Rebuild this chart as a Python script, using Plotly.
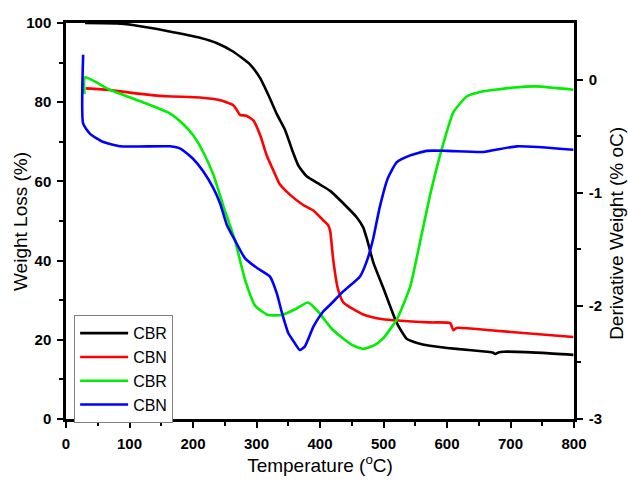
import plotly.graph_objects as go

# Weight-loss curves (left axis, %)
cbr_w_t = [30, 80, 105, 159, 211, 238, 263, 290, 306, 321, 332, 345, 356, 366, 379, 400, 416,
           442, 458, 468, 474, 484, 499, 521, 537, 553, 573, 615, 663, 672, 676, 681, 689,
           750, 799]
cbr_w = [100, 99.9, 99.5, 98, 96.3, 94.9, 92.8, 89.5, 86, 81, 77, 73, 68, 64, 61.3, 59.2, 57.6,
         53.6, 50.9, 48.4, 45.4, 39.5, 33.4, 24.2, 20.2, 19.2, 18.5, 17.7, 17, 16.8, 16.4, 16.8,
         17, 16.7, 16.2]

cbn_w_t = [31, 69, 106, 159, 211, 243, 263, 268, 274, 284, 295, 306, 316, 327, 337, 353, 373,
           390, 405, 413, 416, 421, 428, 437, 468, 499, 573, 605, 610, 615, 668, 799]
cbn_w = [83.5, 83.1, 82.3, 81.5, 81.2, 80.5, 79.3, 78.3, 76.8, 76.6, 75.4, 71.6, 66.6, 62.6,
         59.2, 56.6, 54.1, 52.6, 50.2, 48.9, 47.5, 40, 33, 29.4, 26.4, 25.2, 24.4, 24.2, 22.4,
         23, 22.4, 20.7]

# Derivative curves (right axis, % per oC)
cbr_d_t = [29, 30, 69, 121, 164, 184, 200, 216, 232, 248, 266, 282, 298, 318, 340, 361, 381,
           397, 418, 437, 452, 468, 485, 499, 521, 542, 557, 573, 589, 610, 631, 652, 705, 741,
           799]
cbr_d = [-0.13, 0.02, -0.09, -0.2, -0.3, -0.39, -0.49, -0.64, -0.84, -1.12, -1.42, -1.77, -2.0,
         -2.08, -2.08, -2.03, -1.97, -2.05, -2.2, -2.29, -2.35, -2.38, -2.35, -2.29, -2.12,
         -1.83, -1.45, -1.03, -0.67, -0.29, -0.15, -0.11, -0.07, -0.06, -0.09]

cbn_d_t = [27, 27, 38, 58, 85, 164, 180, 200, 216, 232, 243, 253, 266, 282, 302, 321, 332, 340,
           350, 358, 368, 376, 390, 405, 416, 437, 463, 474, 484, 494, 507, 521, 542, 568, 600,
           657, 710, 799]
cbn_d = [0.22, -0.39, -0.48, -0.55, -0.59, -0.59, -0.61, -0.7, -0.81, -0.96, -1.1, -1.28, -1.42,
         -1.58, -1.67, -1.74, -1.89, -2.06, -2.24, -2.31, -2.39, -2.36, -2.18, -2.05, -1.99,
         -1.87, -1.74, -1.6, -1.4, -1.13, -0.87, -0.73, -0.67, -0.63, -0.63, -0.64, -0.59,
         -0.62]

# Axis tick values
x_ticks = [0, 100, 200, 300, 400, 500, 600, 700, 800]
x_minor = [50, 150, 250, 350, 450, 550, 650, 750]
w_ticks = [0, 20, 40, 60, 80, 100]
w_minor = [10, 30, 50, 70, 90]
d_ticks = [-3, -2, -1, 0]
d_minor = [-2.5, -1.5, -0.5]

FONT = "Arial, Liberation Sans, sans-serif"
LW = 2.6


def curve(t, v, name, color, axis="y"):
    return go.Scatter(x=t, y=v, name=name, mode="lines", yaxis=axis,
                      line=dict(color=color, width=LW, shape="spline", smoothing=0.5))


def bold(vals):
    return ["<b>%g</b>" % v for v in vals]


fig = go.Figure()
fig.add_trace(curve(cbr_w_t, cbr_w, "CBR", "black"))
fig.add_trace(curve(cbn_w_t, cbn_w, "CBN", "#ff0000"))
fig.add_trace(curve(cbr_d_t, cbr_d, "CBR", "#00ee00", "y2"))
fig.add_trace(curve(cbn_d_t, cbn_d, "CBN", "#0000ff", "y2"))

tickfont = dict(family=FONT, size=15, color="black")
titlefont = dict(family=FONT, size=19, color="black")
major = dict(ticks="outside", ticklen=6, tickwidth=2, tickcolor="black",
             ticklabelstandoff=3, tickmode="array")
minor_style = dict(ticks="outside", ticklen=4, tickwidth=2, tickcolor="black")
axis_line = dict(showline=True, linecolor="black", linewidth=2.5, showgrid=False,
                 zeroline=False, tickfont=tickfont)

fig.update_layout(
    width=628, height=482,
    margin=dict(l=66, r=54, t=23, b=58),
    paper_bgcolor="white", plot_bgcolor="white",
    font=dict(family=FONT, color="black"),
    showlegend=True,
    legend=dict(x=0.016, y=0.262, xanchor="left", yanchor="top",
                bgcolor="white", bordercolor="#808080", borderwidth=1,
                font=dict(family=FONT, size=16, color="black"),
                tracegroupgap=0, itemwidth=48),
    xaxis=dict(range=[0, 800], tickvals=x_ticks, ticktext=bold(x_ticks), **major,
               minor=dict(tickvals=x_minor, **minor_style),
               mirror=True, **axis_line,
               title=dict(text="Temperature (<sup>o</sup>C)", font=titlefont, standoff=5)),
    yaxis=dict(range=[0, 100], tickvals=w_ticks, ticktext=bold(w_ticks), **major,
               minor=dict(tickvals=w_minor, **minor_style), **axis_line),
    yaxis2=dict(range=[-3, 0.5], tickvals=d_ticks, ticktext=bold(d_ticks),
                overlaying="y", side="right", anchor="x", **major,
                minor=dict(tickvals=d_minor, **minor_style), **axis_line),
    annotations=[
        dict(text="Weight Loss (%)", font=titlefont, textangle=-90, showarrow=False,
             xref="paper", yref="paper", x=-0.0906, y=0.5, xanchor="center",
             yanchor="middle"),
        dict(text="Derivative Weight (% oC)", font=titlefont, textangle=-90,
             showarrow=False, xref="paper", yref="paper", x=1.0846, y=0.47,
             xanchor="center", yanchor="middle"),
    ],
)

fig.write_html("out.html")
